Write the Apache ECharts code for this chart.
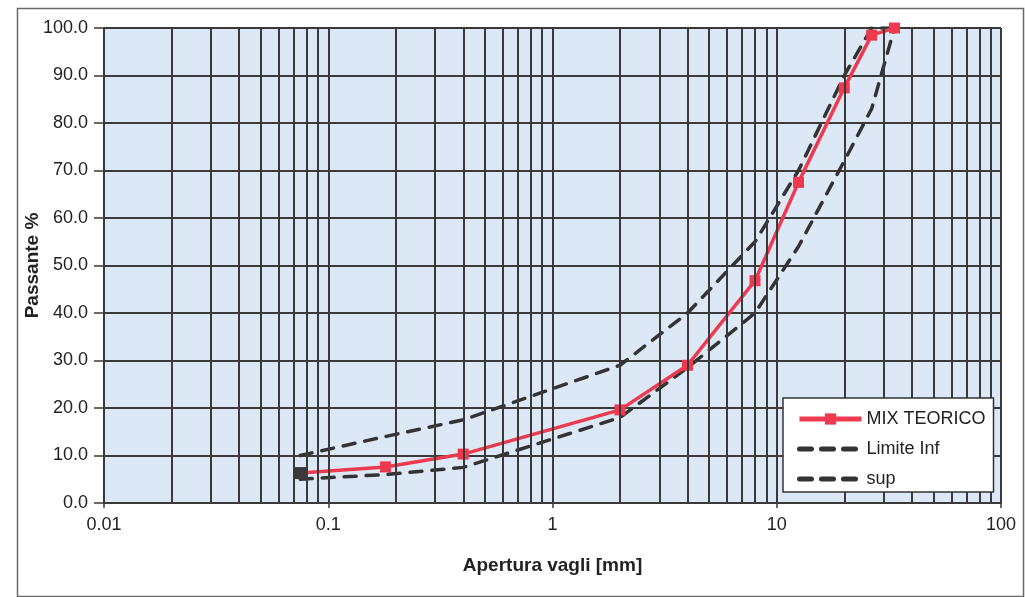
<!DOCTYPE html>
<html>
<head>
<meta charset="utf-8">
<script src="https://cdn.jsdelivr.net/npm/echarts@6/dist/echarts.min.js"></script>
<style>
  html, body { margin: 0; padding: 0; background: #ffffff; }
  #chart { width: 1025px; height: 597px; }
</style>
</head>
<body>
<div id="chart"></div>
<script>
// Sieve openings [mm]
const sieves = [0.075, 0.18, 0.4, 2, 4, 8, 12.5, 20, 26.5, 33.5];
// Percent passing – theoretical mix
const mixTeorico = [6.3, 7.6, 10.3, 19.6, 29, 46.8, 67.5, 87.4, 98.5, 100];
// Grading envelope
const limiteInf = [5, 6, 7.5, 18, 28.5, 40, 54, 72, 83, 100];
const limiteSup = [10, 14, 17.5, 29, 40, 55, 70, 90, 100, 100];
// Axis ticks
const xTicks = [0.01, 0.1, 1, 10, 100];
const yTicks = [0, 10, 20, 30, 40, 50, 60, 70, 80, 90, 100];

const FONT = '"Liberation Sans", Arial, sans-serif';
const GRID_COLOR = '#3a3a3a';
const RED = '#ee3a4e';
const DASH = '#333333';

function pairs(xs, ys) { return xs.map((x, i) => [x, ys[i]]); }

// vertical log-paper lines: 1..9 in every decade
const vLines = [];
for (let d = 0; d < xTicks.length - 1; d++) {
  for (let k = 1; k <= 9; k++) {
    if (d === 0 && k === 1) continue;
    vLines.push(+(xTicks[d] * k).toPrecision(6));
  }
}
vLines.push(xTicks[xTicks.length - 1]);

const mixData = pairs(sieves, mixTeorico);
mixData[0] = { value: mixData[0], itemStyle: { color: '#3a3a3a' }, symbolSize: 12 };

const chart = echarts.init(document.getElementById('chart'), null, { renderer: 'canvas' });
chart.setOption({
  backgroundColor: '#ffffff',
  animation: false,
  graphic: [{
    type: 'rect',
    left: 15, top: 6,
    shape: { width: 1006, height: 588 },
    style: { fill: 'none', stroke: '#6a6a6a', lineWidth: 1.5 },
    silent: true
  }],
  grid: {
    left: 104, right: 24, top: 28, bottom: 94,
    show: true, backgroundColor: '#dce8f5', borderWidth: 0
  },
  legend: {
    data: [
      { name: 'MIX TEORICO', lineStyle: { width: 5 } },
      { name: 'Limite Inf', itemStyle: { opacity: 0 }, lineStyle: { width: 5 } },
      { name: 'sup', itemStyle: { opacity: 0 }, lineStyle: { width: 5 } }
    ],
    z: 20,
    orient: 'vertical',
    left: 783, top: 398,
    itemWidth: 62, itemHeight: 14, itemGap: 12,
    padding: [12, 8, 4, 14],
    backgroundColor: '#ffffff',
    borderColor: '#333333', borderWidth: 1.5,
    textStyle: { fontFamily: FONT, fontSize: 18, color: '#222222' }
  },
  xAxis: {
    type: 'log', logBase: 10,
    min: xTicks[0], max: xTicks[xTicks.length - 1],
    name: 'Apertura vagli [mm]',
    nameLocation: 'middle', nameGap: 53,
    nameTextStyle: { fontFamily: FONT, fontSize: 19, fontWeight: 'bold', color: '#222222' },
    axisLine: { show: true, lineStyle: { color: GRID_COLOR, width: 2 } },
    axisTick: { show: true, length: 5, lineStyle: { color: GRID_COLOR, width: 1.5 } },
    axisLabel: {
      fontFamily: FONT, fontSize: 18, color: '#222222', margin: 13,
      formatter: v => String(v)
    },
    splitLine: { show: false }
  },
  yAxis: {
    type: 'value', min: yTicks[0], max: yTicks[yTicks.length - 1], interval: 10,
    name: 'Passante %',
    nameLocation: 'middle', nameGap: 62, nameRotate: 90,
    nameMoveOverlap: false,
    nameTextStyle: { fontFamily: FONT, fontSize: 19, fontWeight: 'bold', color: '#222222' },
    axisLine: { show: true, lineStyle: { color: GRID_COLOR, width: 2 } },
    axisTick: { show: true, length: 10, lineStyle: { color: GRID_COLOR, width: 1.5 } },
    axisLabel: {
      fontFamily: FONT, fontSize: 18, color: '#222222', margin: 16,
      formatter: v => v.toFixed(1)
    },
    splitLine: { show: true, lineStyle: { color: GRID_COLOR, width: 2 } }
  },
  series: [
    {
      name: 'paper',
      type: 'line',
      data: [],
      z: 1,
      silent: true,
      markLine: {
        silent: true,
        symbol: ['none', 'none'],
        label: { show: false },
        lineStyle: { color: GRID_COLOR, width: 2, type: 'solid' },
        data: vLines.map(v => ({ xAxis: v }))
      }
    },
    {
      name: 'Limite Inf',
      type: 'line',
      data: pairs(sieves, limiteInf),
      symbol: 'none',
      z: 3,
      lineStyle: { color: DASH, width: 3.5, type: [12, 10], cap: 'round' },
      itemStyle: { color: DASH }
    },
    {
      name: 'sup',
      type: 'line',
      data: pairs(sieves, limiteSup),
      symbol: 'none',
      z: 3,
      lineStyle: { color: DASH, width: 3.5, type: [12, 10], cap: 'round' },
      itemStyle: { color: DASH }
    },
    {
      name: 'MIX TEORICO',
      type: 'line',
      data: mixData,
      symbol: 'rect',
      symbolSize: 11,
      z: 4,
      lineStyle: { color: RED, width: 3.5 },
      itemStyle: { color: RED }
    }
  ]
});
</script>
</body>
</html>
